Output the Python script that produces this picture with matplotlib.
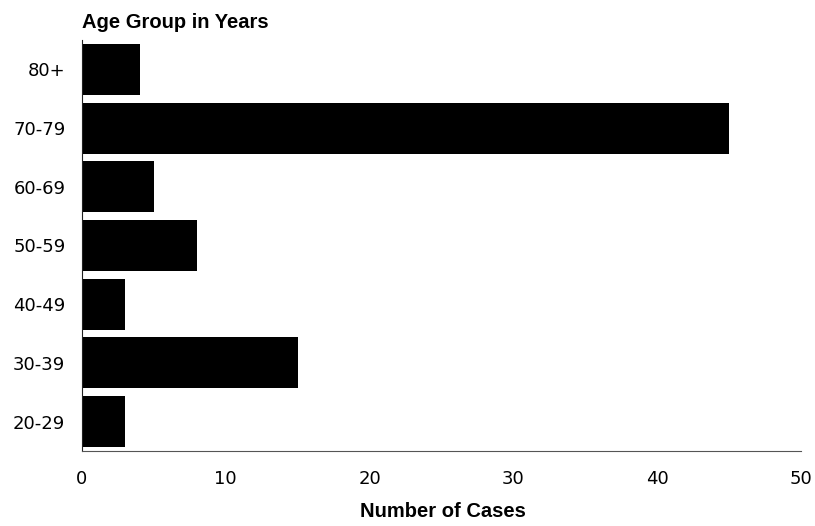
import matplotlib
import matplotlib.pyplot as plt

matplotlib.use('Agg')

age_groups = ['20-29', '30-39', '40-49', '50-59', '60-69', '70-79', '80+']
cases = [3, 15, 3, 8, 5, 45, 4]
x_ticks = [0, 10, 20, 30, 40, 50]

fig = plt.figure(figsize=(8.15, 5.26), dpi=100)
ax = fig.add_axes([0.1006, 0.1426, 0.8822, 0.7814])

ax.barh(age_groups, cases, height=0.87, color='black')

ax.set_xlim(0, 50)
ax.set_ylim(-0.5, 6.5)
ax.set_xticks(x_ticks)
ax.tick_params(length=0, labelsize=13)
ax.tick_params(axis='x', pad=14)
ax.tick_params(axis='y', pad=12)
for lbl in ax.get_xticklabels() + ax.get_yticklabels():
    lbl.set_family('DejaVu Sans')

ax.spines['top'].set_visible(False)
ax.spines['right'].set_visible(False)
ax.spines['left'].set_color('#222222')
ax.spines['bottom'].set_color('#555555')

# title sits above the y axis, left-aligned with it
fig.text(0.1006, 0.958, 'Age Group in Years', fontsize=14.5, fontweight='bold',
         family='Liberation Sans', va='center', ha='left')
fig.text(0.543, 0.028, 'Number of Cases', fontsize=14.5, fontweight='bold',
         family='Liberation Sans', va='center', ha='center')

plt.savefig('out.png', dpi=100)
